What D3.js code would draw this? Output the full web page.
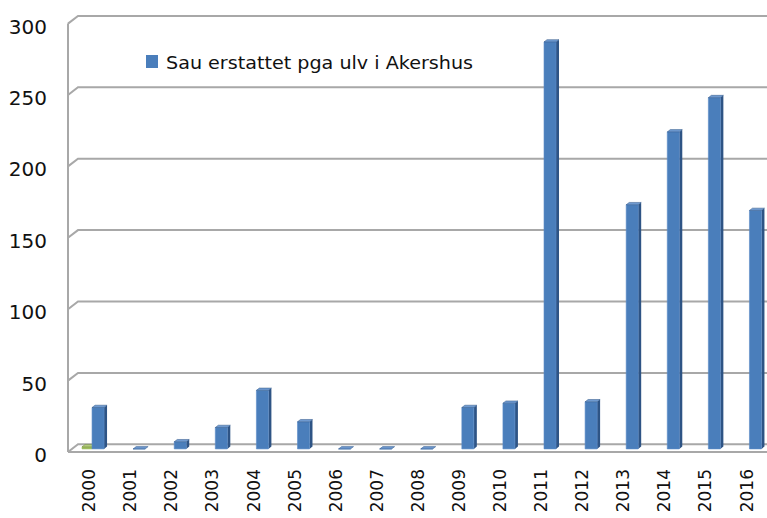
<!DOCTYPE html>
<html><head><meta charset="utf-8">
<script src="https://cdn.jsdelivr.net/npm/d3@7"></script>
<style>html,body{margin:0;padding:0;background:#fff;}svg{display:block;}</style>
</head><body>
<svg id="chart" width="767" height="518"></svg>
<script>
const years = ["2000","2001","2002","2003","2004","2005","2006","2007","2008","2009","2010","2011","2012","2013","2014","2015","2016"];
const sheepCompensated = [29,0,5,15,41,19,0,0,0,29,32,285,33,171,222,246,167];
const secondSeries = [1.5,null,null,null,null,null,null,null,null,null,null,null,null,null,null,null,null];
const yTicks = [0,50,100,150,200,250,300];
const legendLabel = "Sau erstattet pga ulv i Akershus";

const W = 767, H = 518;
const svg = d3.select("#chart");
const DX = 10, DY = -7.7; // 3D depth offset (full depth)

const x = d3.scaleBand().domain(years).range([68.5, 767]).padding(0);
const y = d3.scaleLinear().domain([0, 300]).range([452, 23.6]);
const P = (xf, v, d) => [xf + d * DX, y(v) + d * DY];

const gridColor = "#a8a8a8";
const g = svg.append("g");

// gridlines (side wall slant + back wall line)
yTicks.forEach(v => {
  const a = P(x.range()[0] - 0.5, v, 0), b = P(x.range()[0] - 0.5, v, 1);
  g.append("path")
    .attr("d", `M${a[0]},${a[1]}L${b[0]},${b[1]}L${W},${b[1]}`)
    .attr("fill", "none").attr("stroke", gridColor).attr("stroke-width", 2);
});
// floor front edge
const f0 = P(x.range()[0] - 0.5, 0, 0);
g.append("line").attr("x1", f0[0]).attr("x2", W).attr("y1", f0[1]).attr("y2", f0[1])
  .attr("stroke", gridColor).attr("stroke-width", 2);
// left vertical axis line
const top0 = P(x.range()[0] - 0.5, 300, 0);
g.append("line").attr("x1", f0[0]).attr("x2", top0[0]).attr("y1", f0[1]).attr("y2", top0[1])
  .attr("stroke", gridColor).attr("stroke-width", 2);

// 3D bars
function bar3d(c, x0, x1, v, d0, d1, colors) {
  const bl = P(x0, 0, d0), br = P(x1, 0, d0), tl = P(x0, v, d0), tr = P(x1, v, d0);
  const tlb = P(x0, v, d1), trb = P(x1, v, d1), brb = P(x1, 0, d1);
  const bg = g.append("g");
  bg.append("path").attr("d", `M${tr}L${trb}L${brb}L${br}Z`).attr("fill", colors.side);
  bg.append("path").attr("d", `M${bl}L${br}L${tr}L${tl}Z`).attr("fill", colors.front)
    .attr("stroke", colors.edge).attr("stroke-width", 0.6);
  bg.append("path").attr("d", `M${tl}L${tr}L${trb}L${tlb}Z`).attr("fill", colors.top)
    .attr("stroke", colors.side).attr("stroke-width", 0.5);
}
const blue = {front: "#4A7EBB", side: "#2E5485", top: "#6F9AD0", edge: "#5B8CC8"};
const green = {front: "#9BBB59", side: "#71893F", top: "#B3CD7C", edge: "#9BBB59"};

years.forEach((yr, i) => {
  const c = x(yr) + x.bandwidth() / 2;
  if (secondSeries[i] != null) bar3d(c, c - 11, c - 1, secondSeries[i], 0.4, 0.7, green);
  if (sheepCompensated[i] != null) bar3d(c, c - 1, c + 11, sheepCompensated[i], 0.4, 0.7, blue);
});

// y axis labels
svg.append("g").selectAll("text").data(yTicks).join("text")
  .attr("x", 47).attr("y", d => y(d) + 3)
  .attr("text-anchor", "end").attr("dominant-baseline", "central")
  .attr("font-family", "DejaVu Sans, sans-serif").attr("font-size", 20)
  .attr("fill", "#111").text(d => d);

// x axis labels
svg.append("g").selectAll("text").data(years).join("text")
  .attr("transform", d => `translate(${x(d) + x.bandwidth() / 2},${469}) rotate(-90)`)
  .attr("text-anchor", "end").attr("dy", "0.36em")
  .attr("font-family", "DejaVu Sans, sans-serif").attr("font-size", 17)
  .attr("fill", "#111").text(d => d);

// legend
const lg = svg.append("g");
lg.append("rect").attr("x", 146).attr("y", 55).attr("width", 12).attr("height", 13).attr("fill", "#4A7EBB");
lg.append("text").attr("x", 166).attr("y", 69)
  .attr("font-family", "DejaVu Sans, sans-serif").attr("font-size", 18)
  .attr("textLength", 307).attr("lengthAdjust", "spacingAndGlyphs")
  .attr("fill", "#111").text(legendLabel);
</script>
</body></html>
